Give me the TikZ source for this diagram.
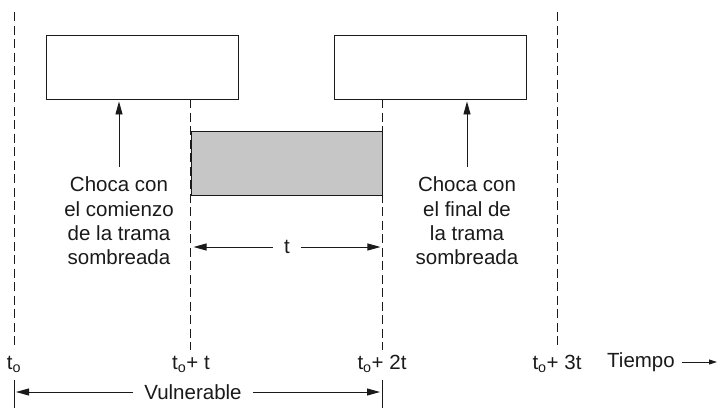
\documentclass[tikz,border=0pt]{standalone}
\usepackage{fontspec}
\setmainfont{Liberation Sans}
\usetikzlibrary{arrows.meta,positioning,calc}
\definecolor{ink}{HTML}{1A1A1A}
\definecolor{shade}{HTML}{C6C6C6}

\begin{document}
\begin{tikzpicture}[x=1pt,y=-1pt,font=\fontsize{20.5}{24.3}\selectfont,
   frame/.style={draw=ink,line width=0.9pt,minimum width=192pt,minimum height=64pt,inner sep=0pt},
   tmark/.style={draw=ink,line width=0.8pt,dash pattern=on 9pt off 4.5pt},
   arr/.style={-{Triangle[length=13pt,width=7pt]},draw=ink,line width=0.9pt},
   lbl/.style={text=ink,inner sep=0pt},
   note/.style={text=ink,align=center,inner sep=0pt}]
  \useasboundingbox (0,0) rectangle (718,408);
  % frames
  \node[frame] (b1) at (142,67) {};
  \node[frame] (b2) at (430,67) {};
  \node[frame,fill=shade,minimum width=191pt] (sh) at (286.5,163) {};
  % time marks
  \coordinate (m0) at (14,12);
  \coordinate (m3) at (557,12);
  \draw[tmark] (m0) -- ++(0,333);
  \draw[tmark] (sh.west |- b1.south) -- ++(0,251);
  \draw[tmark] (sh.east |- b2.south) -- ++(0,251);
  \draw[tmark] (m3) -- ++(0,333);
  \node[lbl] (l0) at (14,364) {t\textsubscript{o}};
  \node[lbl] (l1) at (191,364) {t\textsubscript{o}+ t};
  \node[lbl] (l2) at (382,364) {t\textsubscript{o}+ 2t};
  \node[lbl] (l3) at (557,364) {t\textsubscript{o}+ 3t};
  \node[lbl,anchor=west] (tm) at (607,362) {Tiempo};
  \coordinate (tmend) at (717,362);
  \draw[arr,-{Triangle[length=8pt,width=5pt]}] ([xshift=7pt]tm.east) -- (tmend);
  % notes
  \node[note] (c1) at (119,221) {Choca con\\el comienzo\\de la trama\\sombreada};
  \node[note] (c2) at (467,221) {Choca con\\el final de\\la trama\\sombreada};
  \draw[arr] ([yshift=10pt]c1.north) -- ([yshift=-2pt]c1.north |- b1.south);
  \draw[arr] ([yshift=10pt]c2.north) -- ([yshift=-2pt]c2.north |- b2.south);
  % t span
  \node[lbl,inner xsep=11pt] (span) at (287,247) {t};
  \draw[arr] (span.west) -- ([xshift=3pt]sh.west |- span);
  \draw[arr] (span.east) -- ([xshift=-2pt]sh.east |- span);
  % vulnerable span
  \coordinate (v0) at (14,380);
  \coordinate (v1) at (382,380);
  \draw[ink,line width=0.9pt] (v0) -- ++(0,28) (v1) -- ++(0,28);
  \node[lbl,inner xsep=11pt] (vul) at (193,392) {Vulnerable};
  \draw[arr] (vul.west) -- ([xshift=2pt]v0 |- vul);
  \draw[arr] (vul.east) -- ([xshift=-2pt]v1 |- vul);
\end{tikzpicture}
\end{document}
